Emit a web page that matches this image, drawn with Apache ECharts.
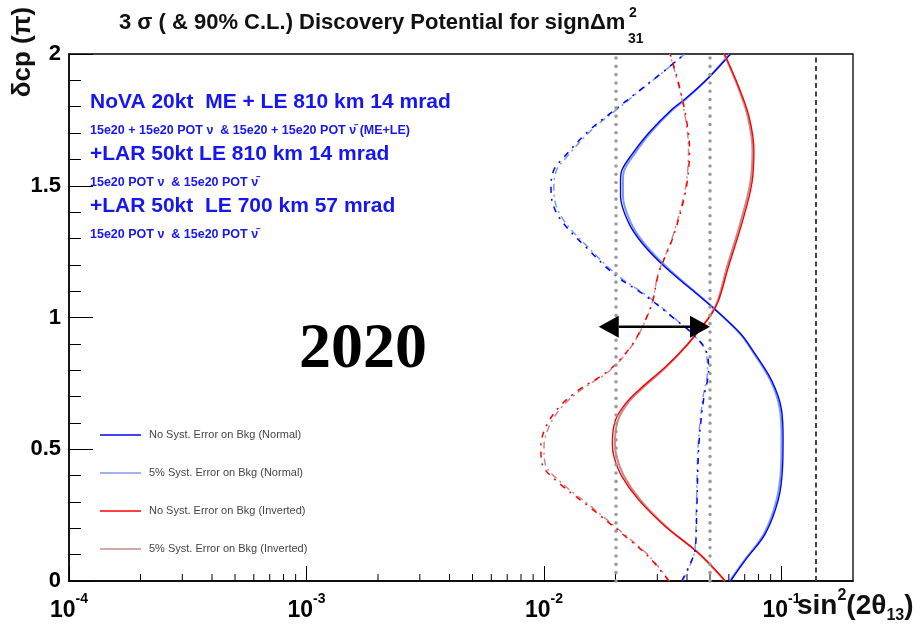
<!DOCTYPE html>
<html>
<head>
<meta charset="utf-8">
<script src="https://cdn.jsdelivr.net/npm/echarts@6/dist/echarts.min.js"></script>
<style>
  html, body { margin: 0; padding: 0; background: #fff; }
  #chart { width: 922px; height: 639px; }
</style>
</head>
<body>
<div id="chart"></div>
<script>
// 3 sigma discovery contours (sin^2(2theta13) reach vs deltaCP in units of pi)
const deltaBlue = [0, 0.08, 0.18, 0.31, 0.43, 0.54, 0.65, 0.76, 0.88, 0.94, 1.04, 1.19, 1.28, 1.36, 1.46, 1.52, 1.56, 1.62, 1.70, 1.79, 1.83, 1.91, 2.0];
const s2tBlueNoSyst = [0.061, 0.0705, 0.0855, 0.097, 0.101, 0.1015, 0.100, 0.091, 0.075, 0.067, 0.051, 0.0325, 0.026, 0.0227, 0.021, 0.021, 0.0213, 0.0235, 0.0276, 0.0346, 0.0394, 0.0493, 0.061];
const s2tBlueSyst5 = [0.0605, 0.070, 0.0845, 0.0955, 0.0995, 0.100, 0.0985, 0.090, 0.0745, 0.0667, 0.0512, 0.033, 0.0265, 0.0232, 0.0215, 0.0215, 0.0218, 0.024, 0.028, 0.035, 0.0397, 0.0493, 0.0605];

const deltaRed = [0, 0.105, 0.206, 0.307, 0.396, 0.472, 0.523, 0.611, 0.674, 0.725, 0.813, 0.889, 0.965, 1.016, 1.066, 1.193, 1.357, 1.509, 1.636, 1.762, 1.876, 2.0];
const s2tRedNoSyst = [0.058, 0.0449, 0.0325, 0.0251, 0.0213, 0.0197, 0.0194, 0.020, 0.0221, 0.0251, 0.0325, 0.0394, 0.0463, 0.051, 0.0544, 0.0598, 0.0681, 0.075, 0.0765, 0.073, 0.066, 0.0575];
const s2tRedSyst5 = [0.0578, 0.0447, 0.0328, 0.0255, 0.0218, 0.0202, 0.0199, 0.0205, 0.0225, 0.0255, 0.0328, 0.0394, 0.0461, 0.0507, 0.054, 0.059, 0.067, 0.0738, 0.0755, 0.0721, 0.0655, 0.0573];

// 90% C.L. contours
const deltaBlue90 = [0, 0.06, 0.12, 0.28, 0.52, 0.69, 0.80, 0.877, 0.94, 0.99, 1.08, 1.16, 1.27, 1.36, 1.43, 1.50, 1.56, 1.60, 1.71, 1.79, 1.86, 1.94, 2.0];
const s2tBlue90 = [0.038, 0.041, 0.0433, 0.044, 0.0449, 0.047, 0.0493, 0.048, 0.042, 0.036, 0.027, 0.020, 0.0149, 0.012, 0.0109, 0.0107, 0.011, 0.0119, 0.0155, 0.020, 0.0251, 0.0325, 0.039];
const s2tBlue90Syst5 = [0.0382, 0.0412, 0.0432, 0.0438, 0.0446, 0.0466, 0.0488, 0.0476, 0.0418, 0.0362, 0.0274, 0.0204, 0.0152, 0.0123, 0.0112, 0.011, 0.0113, 0.0122, 0.0158, 0.0203, 0.0253, 0.0326, 0.0392];

const deltaRed90 = [0, 0.092, 0.168, 0.282, 0.371, 0.447, 0.51, 0.586, 0.661, 0.725, 0.80, 0.889, 0.965, 1.054, 1.168, 1.294, 1.42, 1.509, 1.636, 1.737, 1.863, 2.0];
const s2tRed90 = [0.0335, 0.0276, 0.0221, 0.0155, 0.0116, 0.0098, 0.0097, 0.0102, 0.0116, 0.014, 0.0188, 0.0232, 0.0259, 0.0285, 0.0304, 0.0346, 0.0381, 0.040, 0.041, 0.040, 0.0375, 0.034];
const s2tRed90Syst5 = [0.0337, 0.0279, 0.0224, 0.0158, 0.0119, 0.0101, 0.01, 0.0105, 0.0119, 0.0143, 0.019, 0.0233, 0.026, 0.0285, 0.0303, 0.0344, 0.0378, 0.0397, 0.0406, 0.0397, 0.0373, 0.0338];

// reference sensitivities and the 2020 reach arrow
const refDotted = [0.02, 0.05];
const refDashed = [0.14];
const arrowFrom = 0.017, arrowTo = 0.05, arrowDelta = 0.965;

// axis tick labels
const yTickLabels = ['0', '0.5', '1', '1.5', '2'];
const xDecades = [1e-4, 1e-3, 1e-2, 1e-1];
const xMantissas = [2, 3, 4, 5, 6, 7, 8, 9];

const xMin = 1e-4, xMax = 0.2;

function pairs(xs, ys) { return xs.map((x, i) => [x, ys[i]]); }

const minorTicks = [];
xDecades.forEach(d => xMantissas.forEach(m => { const v = d * m; if (v < xMax) minorTicks.push([v, 0]); }));

const C_BLUE = '#0000ff', C_LBLUE = '#7b9be8', C_RED = '#ff0000', C_ROSE = '#c98a8a';
const FONT = 'Liberation Sans, Arial, sans-serif';
const TXT_BLUE = '#1616f0';

const chart = echarts.init(document.getElementById('chart'), null, { renderer: 'canvas' });

const curveBase = { type: 'line', smooth: 0.35, symbol: 'none', silent: true, z: 3 };

function label(x, y, text, size, fill, extra) {
  return Object.assign({ type: 'text', x: x, y: y, style: { text: text, fontSize: size, fontWeight: 'bold', fontFamily: FONT, fill: fill, verticalAlign: 'middle' } }, extra || {});
}

const option = {
  animation: false,
  backgroundColor: '#ffffff',
  grid: { left: 69, right: 69, top: 54, bottom: 58, show: true, borderColor: '#000', borderWidth: 1.3, backgroundColor: 'transparent' },
  xAxis: {
    type: 'log', logBase: 10, min: xMin, max: xMax,
    axisLine: { show: true, lineStyle: { color: '#000', width: 1.5 } },
    axisTick: { show: true, inside: true, length: 15, lineStyle: { color: '#000', width: 1 } },
    minorTick: { show: false },
    splitLine: { show: false },
    axisLabel: {
      showMaxLabel: false, margin: 11,
      formatter: function (v) {
        const l = Math.log10(v), e = Math.round(l);
        if (Math.abs(l - e) > 1e-6) return '';
        return '{b|10}{s|' + e + '}';
      },
      rich: {
        b: { fontSize: 23, fontWeight: 'bold', fontFamily: FONT, color: '#000', lineHeight: 30, verticalAlign: 'bottom' },
        s: { fontSize: 14, fontWeight: 'bold', fontFamily: FONT, color: '#000', lineHeight: 30, verticalAlign: 'top' }
      }
    }
  },
  yAxis: {
    type: 'value', min: 0, max: 2, interval: 0.5,
    axisLine: { show: true, lineStyle: { color: '#000', width: 1.5 } },
    axisTick: { show: true, inside: true, length: 24, lineStyle: { color: '#000', width: 1 } },
    minorTick: { show: true, splitNumber: 5, length: 12, lineStyle: { color: '#000', width: 1 } },
    splitLine: { show: false },
    axisLabel: {
      margin: 8, fontSize: 22, fontWeight: 'bold', fontFamily: FONT, color: '#000',
      formatter: function (v) { return yTickLabels[Math.round(v / 0.5)]; }
    }
  },
  legend: {
    orient: 'vertical', left: 100, top: 429, padding: 0, icon: 'rect', itemWidth: 41, itemHeight: 1.6, itemGap: 26,
    data: ['No Syst. Error on Bkg (Normal)', '5% Syst. Error on Bkg (Normal)', 'No Syst. Error on Bkg (Inverted)', '5% Syst. Error on Bkg (Inverted)'],
    textStyle: { fontSize: 11, lineHeight: 12, color: '#444', fontFamily: FONT, padding: [0, 0, 0, 3] },
    selectedMode: false
  },
  series: [
    Object.assign({}, curveBase, {
      name: '5% Syst. Error on Bkg (Normal)', data: pairs(s2tBlueSyst5, deltaBlue),
      lineStyle: { color: C_LBLUE, width: 2 }, itemStyle: { color: C_LBLUE }
    }),
    Object.assign({}, curveBase, {
      name: 'No Syst. Error on Bkg (Normal)', data: pairs(s2tBlueNoSyst, deltaBlue),
      lineStyle: { color: C_BLUE, width: 1.4 }, itemStyle: { color: C_BLUE },
      markLine: {
        silent: true, symbol: 'none', animation: false, label: { show: false },
        data: refDotted.map(v => ({ xAxis: v, lineStyle: { color: '#9a9a9a', width: 3.5, type: [0.1, 8.2], cap: 'round' } }))
          .concat(refDashed.map(v => ({ xAxis: v, lineStyle: { color: '#444', width: 2, type: [5, 3.5] } })))
      }
    }),
    Object.assign({}, curveBase, {
      name: '5% Syst. Error on Bkg (Inverted)', data: pairs(s2tRedSyst5, deltaRed),
      lineStyle: { color: C_ROSE, width: 2 }, itemStyle: { color: C_ROSE }
    }),
    Object.assign({}, curveBase, {
      name: 'No Syst. Error on Bkg (Inverted)', data: pairs(s2tRedNoSyst, deltaRed),
      lineStyle: { color: C_RED, width: 1.4 }, itemStyle: { color: C_RED }
    }),
    Object.assign({}, curveBase, {
      name: '90% C.L. (Normal, 5%)', data: pairs(s2tBlue90Syst5, deltaBlue90),
      lineStyle: { color: C_LBLUE, width: 1.5, type: [7, 4, 2, 4] }
    }),
    Object.assign({}, curveBase, {
      name: '90% C.L. (Normal)', data: pairs(s2tBlue90, deltaBlue90),
      lineStyle: { color: C_BLUE, width: 1.5, type: [6, 6, 2, 6] }
    }),
    Object.assign({}, curveBase, {
      name: '90% C.L. (Inverted, 5%)', data: pairs(s2tRed90Syst5, deltaRed90),
      lineStyle: { color: C_ROSE, width: 1.5, type: [7, 4, 2, 4] }
    }),
    Object.assign({}, curveBase, {
      name: '90% C.L. (Inverted)', data: pairs(s2tRed90, deltaRed90),
      lineStyle: { color: C_RED, width: 1.5, type: [6, 6, 2, 6] }
    }),
    {
      // log-axis minor ticks at 2..9 x 10^n
      type: 'custom', silent: true, z: 4, clip: false,
      data: minorTicks,
      renderItem: function (params, api) {
        const p = api.coord([api.value(0), api.value(1)]);
        return { type: 'line', shape: { x1: p[0], y1: p[1], x2: p[0], y2: p[1] - 7 }, style: { stroke: '#000', lineWidth: 1 } };
      }
    },
    {
      // double-headed arrow between the two reach values
      type: 'custom', silent: true, z: 6, clip: false,
      encode: { x: [0, 1], y: 2 },
      data: [[arrowFrom, arrowTo, arrowDelta]],
      renderItem: function (params, api) {
        const a = api.coord([api.value(0), api.value(2)]);
        const b = api.coord([api.value(1), api.value(2)]);
        const L = 20, H = 11;
        return {
          type: 'group', children: [
            { type: 'line', shape: { x1: a[0] + L, y1: a[1], x2: b[0] - L, y2: b[1] }, style: { stroke: '#000', lineWidth: 2.5 } },
            { type: 'polygon', shape: { points: [[a[0], a[1]], [a[0] + L, a[1] - H], [a[0] + L, a[1] + H]] }, style: { fill: '#000' } },
            { type: 'polygon', shape: { points: [[b[0], b[1]], [b[0] - L, b[1] - H], [b[0] - L, b[1] + H]] }, style: { fill: '#000' } }
          ]
        };
      }
    }
  ],
  graphic: [
    label(119, 23, '3 \u03C3 ( & 90% C.L.) Discovery Potential for sign\u0394m', 22, '#111'),
    label(629, 13, '2', 14, '#111'),
    label(628, 39, '31', 14, '#111'),

    label(23, 52, '\u03B4cp (\u03C0)', 26, '#111', { rotation: Math.PI / 2, style: { text: '\u03B4cp (\u03C0)', fontSize: 26, fontWeight: 'bold', fontFamily: FONT, fill: '#111', align: 'center', verticalAlign: 'middle' } }),
    {
      type: 'text', x: 797, y: 606, style: {
        text: '{n|sin}{u|2}{n|(2\u03B8}{d|13}{n|)}', verticalAlign: 'middle',
        rich: {
          n: { fontSize: 28, fontWeight: 'bold', fontFamily: FONT, fill: '#111', lineHeight: 36, verticalAlign: 'middle' },
          u: { fontSize: 16, fontWeight: 'bold', fontFamily: FONT, fill: '#111', lineHeight: 36, verticalAlign: 'top' },
          d: { fontSize: 16, fontWeight: 'bold', fontFamily: FONT, fill: '#111', lineHeight: 36, verticalAlign: 'bottom' }
        }
      }
    },

    label(90, 102, 'NoVA 20kt  ME + LE 810 km 14 mrad', 21, TXT_BLUE),
    label(90, 131, '15e20 + 15e20 POT \u03BD  & 15e20 + 15e20 POT \u03BD\u0304 (ME+LE)', 12.5, TXT_BLUE),
    label(90, 154, '+LAR 50kt LE 810 km 14 mrad', 21, TXT_BLUE),
    label(90, 183, '15e20 POT \u03BD  & 15e20 POT \u03BD\u0304', 12.5, TXT_BLUE),
    label(90, 206, '+LAR 50kt  LE 700 km 57 mrad', 21, TXT_BLUE),
    label(90, 235, '15e20 POT \u03BD  & 15e20 POT \u03BD\u0304', 12.5, TXT_BLUE),

    { type: 'text', x: 299, y: 350, style: { text: '2020', fontSize: 64, fontWeight: 'bold', fontFamily: 'Liberation Serif, Times New Roman, serif', fill: '#000', verticalAlign: 'middle' } }
  ]
};

chart.setOption(option);
</script>
</body>
</html>
